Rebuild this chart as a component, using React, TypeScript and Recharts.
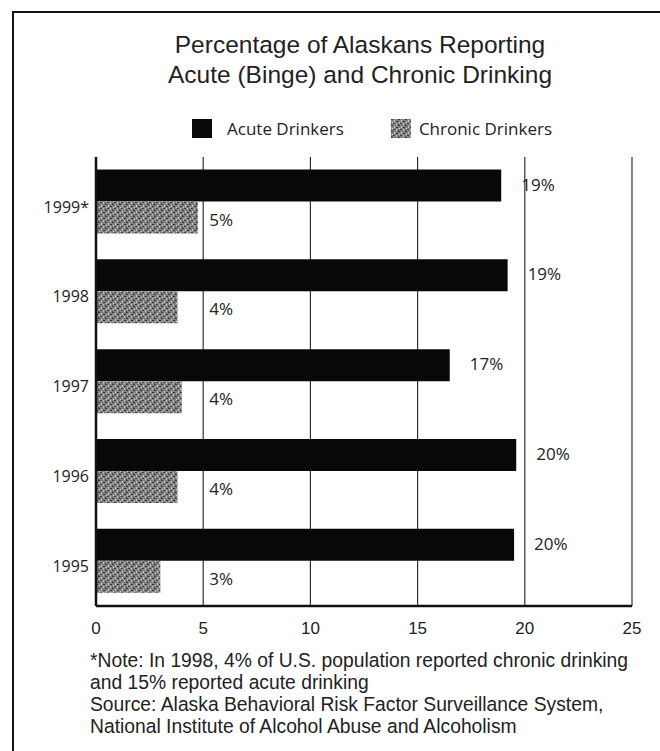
import { BarChart, Bar, XAxis, YAxis, CartesianGrid, LabelList } from 'recharts'

// years top to bottom, as in the printed chart
const years = ['1999*', '1998', '1997', '1996', '1995']
// bar lengths (percent)
const acuteValues = [18.9, 19.2, 16.5, 19.6, 19.5]
const chronicValues = [4.75, 3.8, 4.0, 3.8, 3.0]
// printed labels
const acuteLabels = ['19%', '19%', '17%', '20%', '20%']
const chronicLabels = ['5%', '4%', '4%', '4%', '3%']
const xTicks = [0, 5, 10, 15, 20, 25]
const seriesNames = ['Acute Drinkers', 'Chronic Drinkers']

const noteLines = [
  '*Note: In 1998, 4% of U.S. population reported chronic drinking',
  'and 15% reported acute drinking',
  'Source: Alaska Behavioral Risk Factor Surveillance System,',
  'National Institute of Alcohol Abuse and Alcoholism',
]

const data = years.map((year, i) => ({
  year,
  acute: acuteValues[i],
  chronic: chronicValues[i],
}))

const labelFont = '"Open Sans", "Noto Sans", sans-serif'
const arial = '"Liberation Sans", Arial, sans-serif'

function AcuteLabel(props: any) {
  const { x, y, width, height, index } = props
  return (
    <text x={x + width + 20} y={y + height / 2 + 5} fontSize={17} fontFamily={labelFont} fill="#222">
      {acuteLabels[index]}
    </text>
  )
}

function ChronicLabel(props: any) {
  const { x, y, width, height, index, value } = props
  // labels sit just right of the 5% gridline when the bar is shorter
  const x5 = x + (width * 5) / value
  const lx = Math.max(x + width, x5) + 6
  return (
    <text x={lx} y={y + height / 2 + 8} fontSize={17} fontFamily={labelFont} fill="#222">
      {chronicLabels[index]}
    </text>
  )
}

export default function App() {
  return (
    <div style={{ position: 'absolute', left: 0, top: 0, width: 660, height: 751, background: '#fff', overflow: 'hidden' }}>
      <svg width={0} height={0} style={{ position: 'absolute' }}>
        <defs>
          <pattern id="speckle" width={7} height={6} patternUnits="userSpaceOnUse">
            <rect width={7} height={6} fill="#828282" />
            <rect x={0} y={0} width={2} height={1} fill="#3c3c3c" />
            <rect x={3} y={1} width={1} height={2} fill="#c8c8c8" />
            <rect x={5} y={2} width={2} height={1} fill="#333" />
            <rect x={1} y={3} width={1} height={1} fill="#d4d4d4" />
            <rect x={2} y={4} width={2} height={1} fill="#444" />
            <rect x={5} y={4} width={1} height={2} fill="#bbb" />
            <rect x={0} y={5} width={1} height={1} fill="#555" />
          </pattern>
        </defs>
      </svg>
      <div style={{ position: 'absolute', left: 12, top: 11, right: 0, bottom: 0, borderLeft: '2.5px solid #111', borderTop: '2.5px solid #111' }} />
      <div style={{ position: 'absolute', left: 0, width: 720, top: 30, textAlign: 'center', fontFamily: arial, fontSize: 24.5, lineHeight: '30px', color: '#222' }}>
        <div>Percentage of Alaskans Reporting</div>
        <div>Acute (Binge) and Chronic Drinking</div>
      </div>
      <div style={{ position: 'absolute', top: 117, left: 192, display: 'flex', alignItems: 'center', fontFamily: labelFont, fontSize: 17, color: '#222' }}>
        <svg width={20} height={19}><rect width={20} height={19} fill="#080808" /></svg>
        <span style={{ marginLeft: 15 }}>{seriesNames[0]}</span>
        <svg width={20} height={19} style={{ marginLeft: 47 }}>
          <rect width={20} height={19} fill="url(#speckle)" />
        </svg>
        <span style={{ marginLeft: 8 }}>{seriesNames[1]}</span>
      </div>
      <div style={{ position: 'absolute', left: 0, top: 0 }}>
        <BarChart
          width={660}
          height={751}
          data={data}
          layout="vertical"
          margin={{ top: 157, right: 28, bottom: 115, left: 0 }}
          barCategoryGap="14%"
          barGap={0}
        >
          <CartesianGrid horizontal={false} stroke="#333" strokeWidth={1.2} />
          <XAxis
            type="number"
            domain={[0, 25]}
            ticks={xTicks}
            height={30}
            tickLine={false}
            tickSize={0}
            tickMargin={16}
            axisLine={{ stroke: '#111', strokeWidth: 2.5 }}
            tick={{ fontSize: 17, fill: '#222', fontFamily: arial }}
          />
          <YAxis
            type="category"
            dataKey="year"
            width={96}
            tickLine={false}
            tickSize={0}
            tickMargin={7}
            axisLine={{ stroke: '#111', strokeWidth: 2.5 }}
            tick={{ fontSize: 16, fill: '#222', fontFamily: labelFont, dy: 5 }}
          />
          <Bar dataKey="acute" name={seriesNames[0]} fill="#080808" isAnimationActive={false}>
            <LabelList dataKey="acute" content={AcuteLabel} />
          </Bar>
          <Bar dataKey="chronic" name={seriesNames[1]} fill="url(#speckle)" isAnimationActive={false}>
            <LabelList dataKey="chronic" content={ChronicLabel} />
          </Bar>
        </BarChart>
      </div>
      <div style={{ position: 'absolute', left: 90, top: 650, fontFamily: arial, fontSize: 19.3, lineHeight: '22px', color: '#222' }}>
        {noteLines.map((l) => (
          <div key={l}>{l}</div>
        ))}
      </div>
    </div>
  )
}
